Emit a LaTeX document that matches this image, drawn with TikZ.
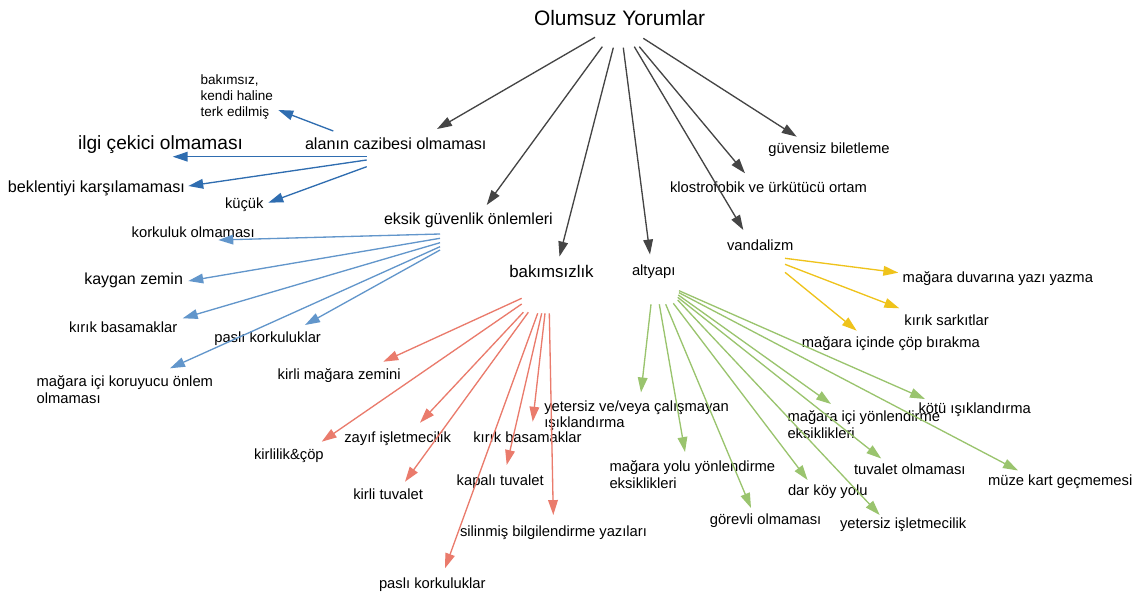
\documentclass[tikz,border=0pt]{standalone}
\usepackage{fontspec}
\setmainfont{Liberation Sans}
\usetikzlibrary{arrows.meta}
\definecolor{cblk}{HTML}{454545}
\definecolor{cblueA}{HTML}{2F6DB0}
\definecolor{cblueB}{HTML}{6296CB}
\definecolor{cred}{HTML}{EA7B6C}
\definecolor{cgreen}{HTML}{9AC46E}
\definecolor{cyel}{HTML}{EFC31B}
\begin{document}
\begin{tikzpicture}[x=0.02cm,y=-0.02cm,
  lbl/.style={anchor=west, inner sep=0pt, outer sep=0pt, font=\fontsize{8.4}{8.4}\selectfont, text height=6.05pt, text depth=0pt},
  fs/.style={font=\fontsize{#1}{#1}\selectfont, text height={0.72*#1pt}},
  mlbl/.style={anchor=base west, inner sep=0pt, outer sep=0pt, align=left, font=\fontsize{8.4}{9.4}\selectfont},
  arr/.style={line width=0.75pt, -{Triangle[length=8.5pt,width=5.5pt]}},
  blk/.style={arr, draw=cblk, fill=cblk},
  bla/.style={arr, draw=cblueA, fill=cblueA},
  blb/.style={arr, draw=cblueB, fill=cblueB},
  rd/.style={arr, draw=cred, fill=cred},
  gr/.style={arr, draw=cgreen, fill=cgreen},
  yl/.style={arr, draw=cyel, fill=cyel}]
\fill[white] (0,0) rectangle (1138,591);
\useasboundingbox (0,0) rectangle (1138,591);

% ---------- labels ----------
\node[lbl, fs=11.9] (root) at (534,18) {Olumsuz Yorumlar};
\node[lbl, fs=9.2] (alan) at (305,143.3) {alanın cazibesi olmaması};
\node[lbl, fs=10.9] (ilgi) at (78,143) {ilgi çekici olmaması};
\node[lbl, fs=9.2] (bek) at (8,187) {beklentiyi karşılamaması};
\node[lbl] (kucuk) at (225,203.3) {küçük};
\node[mlbl, font=\fontsize{7.7}{9.1}\selectfont] (bakimsiz) at (200.7,116.6) {bakımsız,\\kendi haline\\terk edilmiş};
\node[lbl, fs=9.1] (eksik) at (384,219) {eksik güvenlik önlemleri};
\node[lbl] (korkuluk) at (131.7,231.7) {korkuluk olmaması};
\node[lbl, fs=9.1] (kaygan) at (84.3,279) {kaygan zemin};
\node[lbl] (kirikL) at (69,326.7) {kırık basamaklar};
\node[lbl] (pasliL) at (214.3,337.3) {paslı korkuluklar};
\node[mlbl] (koruma) at (36.7,403) {mağara içi koruyucu önlem\\olmaması};
\node[lbl, fs=9.6] (bakim) at (509.3,271.5) {bakımsızlık};
\node[lbl] (altyapi) at (632,270.5) {altyapı};
\node[lbl] (vandal) at (727,245) {vandalizm};
\node[lbl] (klostro) at (670,186.7) {klostrofobik ve ürkütücü ortam};
\node[lbl] (guvensiz) at (768.3,148.3) {güvensiz biletleme};
\node[lbl] (duvar) at (902.7,277.5) {mağara duvarına yazı yazma};
\node[lbl] (sarkit) at (904.4,320) {kırık sarkıtlar};
\node[lbl] (cop) at (801.8,342.5) {mağara içinde çöp bırakma};
\node[lbl] (kirlizemin) at (277.7,374) {kirli mağara zemini};
\node[lbl] (kirlilik) at (254,454.5) {kirlilik\&çöp};
\node[lbl] (zayif) at (344.3,436.7) {zayıf işletmecilik};
\node[lbl] (kirlituv) at (353.3,494.3) {kirli tuvalet};
\node[lbl] (kirikR) at (473.3,437) {kırık basamaklar};
\node[lbl] (kapali) at (456.7,480) {kapalı tuvalet};
\node[lbl] (silinmis) at (460,530.7) {silinmiş bilgilendirme yazıları};
\node[lbl] (pasliR) at (379,582.7) {paslı korkuluklar};
\node[mlbl] (yetersizIs) at (544.3,427.6) {yetersiz ve/veya çalışmayan\\ışıklandırma};
\node[mlbl] (yolyon) at (609.5,488.3) {mağara yolu yönlendirme\\eksiklikleri};
\node[lbl] (gorevli) at (709.8,519) {görevli olmaması};
\node[lbl] (darkoy) at (788,490) {dar köy yolu};
\node[lbl] (yetIslet) at (840,523) {yetersiz işletmecilik};
\node[lbl] (tuvolm) at (854,469) {tuvalet olmaması};
\node[mlbl] (icyon) at (787.5,438.3) {mağara içi yönlendirme\\eksiklikleri};
\node[lbl] (kotu) at (918.5,408.5) {kötü ışıklandırma};
\node[lbl] (muze) at (988,480) {müze kart geçmemesi};

% ---------- connector end points ----------
% root
\coordinate (rA) at (595,37.3);   \coordinate (rAe) at (437,129);
\coordinate (rB) at (602.3,46.7); \coordinate (rBe) at (486.7,205);
\coordinate (rC) at (613.3,47.7); \coordinate (rCe) at (559.5,256.5);
\coordinate (rD) at (623.3,47.7); \coordinate (rDe) at (650,254.5);
\coordinate (rE) at (634.3,46.7); \coordinate (rEe) at (743.3,230);
\coordinate (rF) at (639.3,46.7); \coordinate (rFe) at (745,173.3);
\coordinate (rG) at (643.3,38.3); \coordinate (rGe) at (796.7,136.7);
% alan
\coordinate (aA) at (333.3,131);   \coordinate (aAe) at (278.3,110);
\coordinate (aB) at (366.7,156.7); \coordinate (aBe) at (172.7,156.7);
\coordinate (aC) at (366.7,160);   \coordinate (aCe) at (188.3,186);
\coordinate (aD) at (366.7,166.7); \coordinate (aDe) at (268.3,202.7);
% eksik
\coordinate (eA) at (440,234);   \coordinate (eAe) at (218.3,240);
\coordinate (eB) at (440,238.3); \coordinate (eBe) at (188.3,281);
\coordinate (eC) at (440,242.7); \coordinate (eCe) at (182.7,318.3);
\coordinate (eD) at (440,246.7); \coordinate (eDe) at (170,368.3);
\coordinate (eE) at (440,250);   \coordinate (eEe) at (305,325);
% bakim
\coordinate (bA) at (521.7,298.3); \coordinate (bAe) at (383.3,361.7);
\coordinate (bB) at (521.7,304);   \coordinate (bBe) at (321.7,441.7);
\coordinate (bC) at (523.3,312.3); \coordinate (bCe) at (420,422.7);
\coordinate (bD) at (528.3,312.3); \coordinate (bDe) at (405,481.7);
\coordinate (bE) at (537.7,313.3); \coordinate (bEe) at (445,568.3);
\coordinate (bF) at (541.7,313.3); \coordinate (bFe) at (506.7,465);
\coordinate (bG) at (545,313.3);   \coordinate (bGe) at (532.7,421.7);
\coordinate (bH) at (549.3,313.3); \coordinate (bHe) at (553.3,515);
% altyapi
\coordinate (gA) at (651,304.3);   \coordinate (gAe) at (641,392.4);
\coordinate (gB) at (659.3,304.3); \coordinate (gBe) at (685,452);
\coordinate (gC) at (665.7,304.3); \coordinate (gCe) at (751,508);
\coordinate (gD) at (673.3,303.3); \coordinate (gDe) at (807.6,480);
\coordinate (gE) at (677.7,300);   \coordinate (gEe) at (879.7,515);
\coordinate (gF) at (677.7,297.3); \coordinate (gFe) at (881.2,458.5);
\coordinate (gG) at (678.3,295);   \coordinate (gGe) at (831,404);
\coordinate (gH) at (679,290.7);   \coordinate (gHe) at (925,399);
\coordinate (gI) at (679,292.7);   \coordinate (gIe) at (1018,470.5);
% vandal
\coordinate (vA) at (785,258.3); \coordinate (vAe) at (898.3,272.7);
\coordinate (vB) at (785,264.3); \coordinate (vBe) at (899.3,308.3);
\coordinate (vC) at (785,272.3); \coordinate (vCe) at (856.7,330.7);

% ---------- connectors ----------
\foreach \s in {A,...,G} {\draw[blk] (r\s) -- (r\s e);}
\foreach \s in {A,...,D} {\draw[bla] (a\s) -- (a\s e);}
\foreach \s in {A,...,E} {\draw[blb] (e\s) -- (e\s e);}
\foreach \s in {A,...,H} {\draw[rd] (b\s) -- (b\s e);}
\foreach \s in {A,...,I} {\draw[gr] (g\s) -- (g\s e);}
\foreach \s in {A,...,C} {\draw[yl] (v\s) -- (v\s e);}
\end{tikzpicture}
\end{document}
